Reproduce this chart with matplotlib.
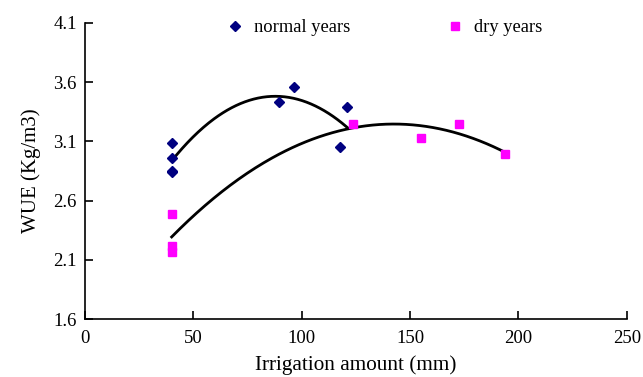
import matplotlib
matplotlib.use("Agg")
import matplotlib.pyplot as plt
import numpy as np

# normal years
normal_x = [40, 40, 40, 40, 89.7, 96.4, 117.5, 121.0]
normal_y = [3.09, 2.96, 2.84, 2.85, 3.43, 3.56, 3.05, 3.39]
# dry years
dry_x = [40, 40, 40, 123.7, 154.9, 172.7, 193.8]
dry_y = [2.49, 2.22, 2.17, 3.25, 3.13, 3.25, 2.99]

x_ticks = [0, 50, 100, 150, 200, 250]
y_ticks = [1.6, 2.1, 2.6, 3.1, 3.6, 4.1]

plt.rcParams['font.family'] = ['Liberation Serif', 'DejaVu Serif']
plt.rcParams['font.size'] = 13

fig = plt.figure(figsize=(6.43, 3.77), dpi=100)
ax = fig.add_axes([85/643, 1-319.3/377, (626.7-85)/643, (319.3-22.7)/377])

# 2nd order trend lines, fitted to each series
for xs, ys in [(normal_x, normal_y), (dry_x, dry_y)]:
    c = np.polyfit(xs, ys, 2)
    xx = np.linspace(min(xs), max(xs), 200)
    ax.plot(xx, np.polyval(c, xx), color='black', lw=2.0, zorder=2)

ax.plot(normal_x, normal_y, 'D', color='#000080', markersize=5.5, ls='none',
        label='normal years', zorder=3)
ax.plot(dry_x, dry_y, 's', color='#FF00FF', markersize=6, ls='none',
        label='dry years', zorder=3)

ax.set_xlim(0, 250)
ax.set_ylim(1.6, 4.1)
ax.set_xticks(x_ticks)
ax.set_yticks(y_ticks)
ax.set_yticklabels([f'{v:.1f}' for v in y_ticks])
ax.tick_params(direction='in', length=6, width=1.2, pad=6, labelsize=13.5)
ax.tick_params(axis='x', pad=8)
for s in ['top', 'right']:
    ax.spines[s].set_visible(False)
for s in ['left', 'bottom']:
    ax.spines[s].set_linewidth(1.2)

ax.set_xlabel('Irrigation amount (mm)', fontsize=15.3, labelpad=6)
ax.set_ylabel('WUE (Kg/m3)', fontsize=15, labelpad=9)

ax.legend(loc='upper left', bbox_to_anchor=(0.233, 1.067), ncol=2, frameon=False,
          handlelength=0.8, handletextpad=0.6, columnspacing=5.3, fontsize=13.3)

fig.savefig('out.png', dpi=100)
